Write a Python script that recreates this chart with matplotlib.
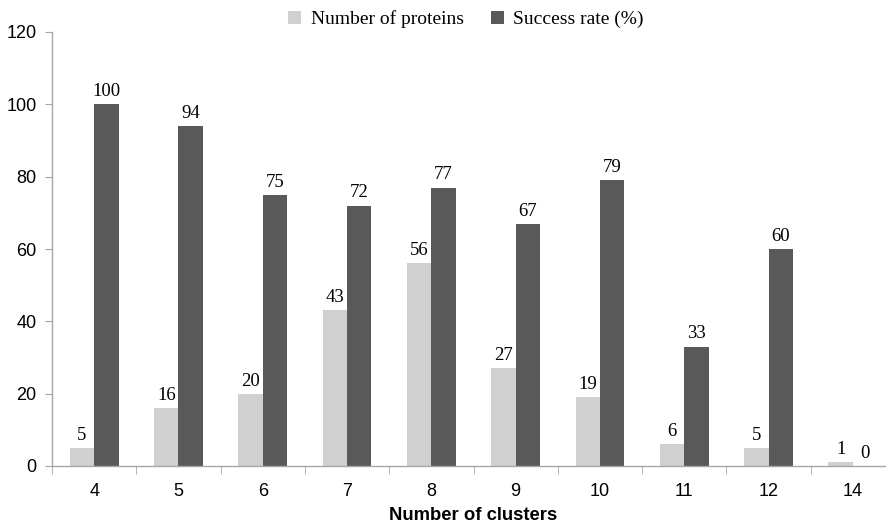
import numpy as np
import matplotlib.pyplot as plt
from matplotlib.ticker import FixedLocator, NullFormatter

clusters = ['4', '5', '6', '7', '8', '9', '10', '11', '12', '14']
n_proteins = [5, 16, 20, 43, 56, 27, 19, 6, 5, 1]
success_rate = [100, 94, 75, 72, 77, 67, 79, 33, 60, 0]

light = '#d0d0d0'
dark = '#595959'
axis_gray = '#a6a6a6'

fig = plt.figure(figsize=(8.87, 5.25), dpi=100)
ax = fig.add_axes([52 / 887, 1 - 466 / 525, 843 / 887, 434 / 525])

x = np.arange(len(clusters))
w = 0.29
b1 = ax.bar(x - w / 2, n_proteins, w, color=light, label='Number of proteins')
b2 = ax.bar(x + w / 2, success_rate, w, color=dark, label='Success rate (%)')

for bars, vals in ((b1, n_proteins), (b2, success_rate)):
    for r, v in zip(bars, vals):
        ax.annotate(str(v), (r.get_x() + r.get_width() / 2, r.get_height()),
                    xytext=(0, 3), textcoords='offset points',
                    ha='center', va='bottom', family='Liberation Serif',
                    fontsize=13.5)

ax.set_xlim(-0.5, len(clusters) - 0.5)
ax.set_ylim(0, 120)
ax.set_yticks(range(0, 121, 20))
ax.set_xticks(x)
ax.set_xticklabels(clusters)
ax.xaxis.set_minor_locator(FixedLocator(np.arange(-0.5, len(clusters), 1)))
ax.xaxis.set_minor_formatter(NullFormatter())

for s in ('top', 'right'):
    ax.spines[s].set_visible(False)
for s in ('left', 'bottom'):
    ax.spines[s].set_color(axis_gray)
    ax.spines[s].set_linewidth(1.0)

ax.tick_params(axis='x', which='major', length=0, pad=12)
ax.tick_params(axis='x', which='minor', length=6, color=axis_gray, direction='out')
ax.tick_params(axis='y', length=5, color=axis_gray, direction='out', pad=6)
for lbl in ax.get_xticklabels() + ax.get_yticklabels():
    lbl.set_family('Liberation Sans')
    lbl.set_fontsize(13)

ax.set_xlabel('Number of clusters', family='Liberation Sans', fontsize=13.3,
              fontweight='bold', labelpad=5)

leg = fig.legend(handles=[b1, b2], loc='center', bbox_to_anchor=(466 / 887, 1 - 19 / 525),
                 ncol=2, frameon=False, handlelength=0.65, handleheight=0.65,
                 handletextpad=0.5, columnspacing=1.4,
                 prop={'family': 'Liberation Serif', 'size': 14})

fig.savefig('out.png', dpi=100)
